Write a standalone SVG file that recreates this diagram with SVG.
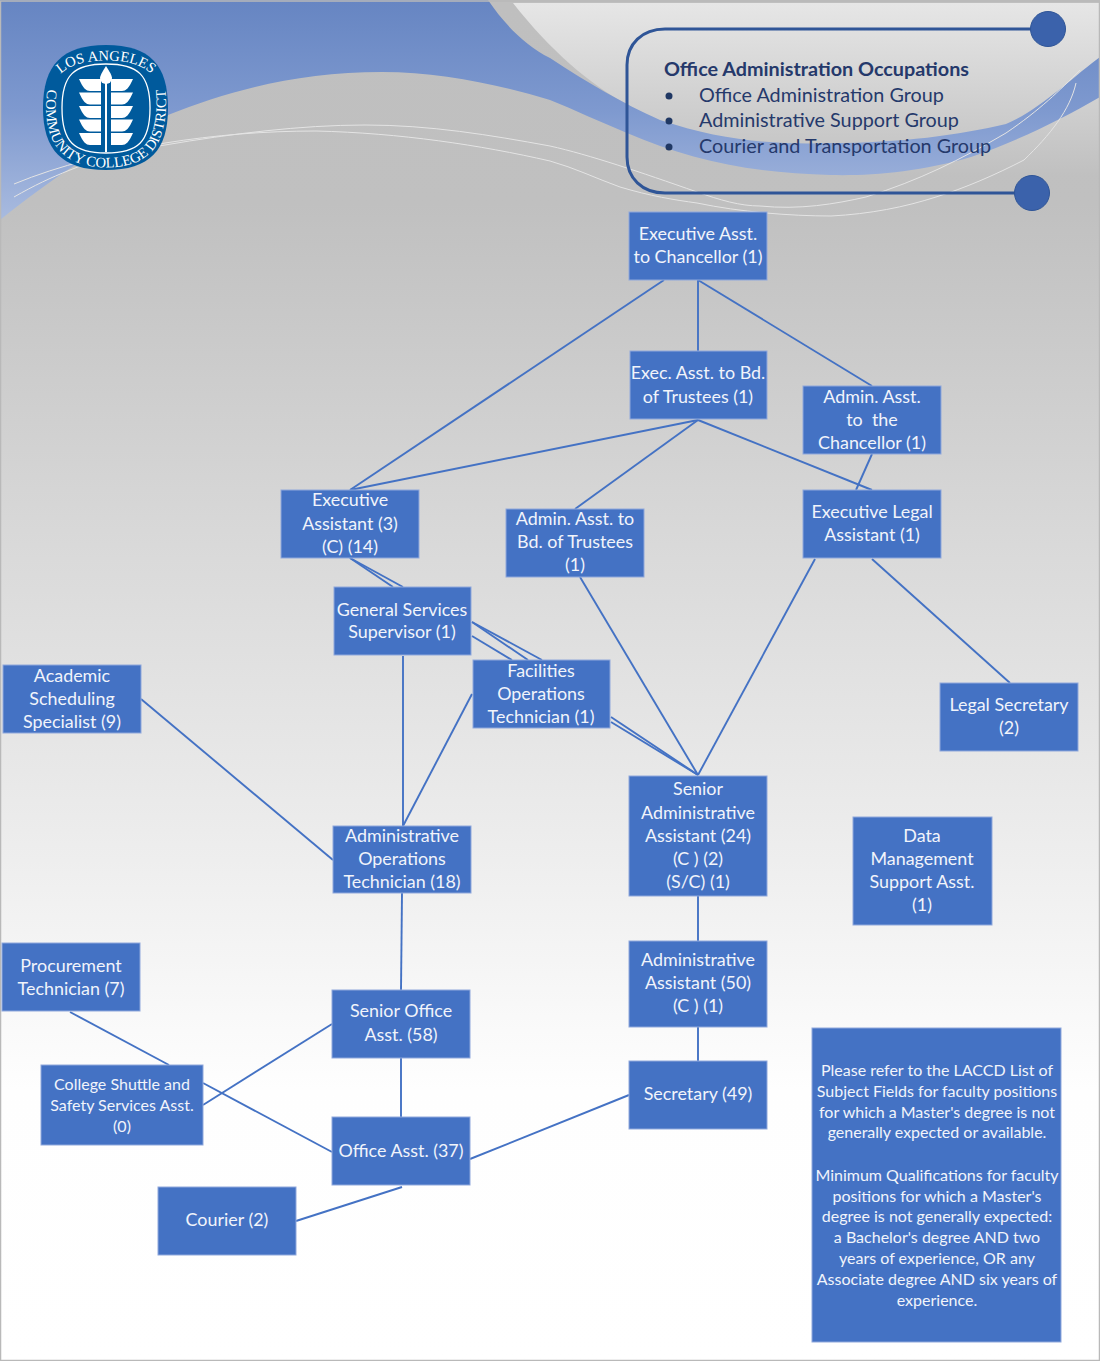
<svg xmlns="http://www.w3.org/2000/svg" width="1100" height="1361" viewBox="0 0 1100 1361">
<defs>
<linearGradient id="bg" x1="0" y1="0" x2="0" y2="1361" gradientUnits="userSpaceOnUse"><stop offset="0" stop-color="#bfbfbf"/><stop offset="0.15" stop-color="#c0c0c0"/><stop offset="0.4" stop-color="#d9d9d9"/><stop offset="0.6" stop-color="#ebebeb"/><stop offset="0.8" stop-color="#fefefe"/><stop offset="1" stop-color="#ffffff"/></linearGradient>
<linearGradient id="blue" x1="0" y1="0" x2="0" y2="220" gradientUnits="userSpaceOnUse"><stop offset="0" stop-color="#6685c2"/><stop offset="0.5" stop-color="#7e99cf"/><stop offset="1" stop-color="#a9bbdf"/></linearGradient>
<linearGradient id="light" x1="0" y1="3" x2="0" y2="175" gradientUnits="userSpaceOnUse"><stop offset="0" stop-color="#e6e6e6"/><stop offset="0.6" stop-color="#cfcfcf"/><stop offset="1" stop-color="#c0c0c0"/></linearGradient>
<path id="lost" d="M50,100 C52,68 78,60.5 106,60.5 C134,60.5 160,68 162,100"/>
<path id="ccd" d="M50,70 C45,100 44,122 53,141 C63,161 85,167.5 106,167.5 C128,167.5 149,161 159,141 C167,122 168,100 163,70"/>
<path id="leaf" d="M79,83 H101 V95 H90 C86,95 83,92 79,83Z M133,83 H111 V95 H122 C126,95 129,92 133,83Z" fill="#fff"/>
</defs>
<style>
.n{fill:#4472c4;stroke:#8fa8dc;stroke-width:1}
.t{font-family:"Lato","Carlito",sans-serif;font-size:17.9px;fill:#f1f4fb;text-anchor:middle}
.s{font-size:16px}
.c line{stroke:#4472c4;stroke-width:1.9}
.h{font-family:"Lato",sans-serif;font-size:19.8px;fill:#25396b}
.w{fill:none;stroke:#e4e4e4;stroke-width:1}
.l{font-family:"Liberation Serif",serif;font-size:14.6px;fill:#fff;text-anchor:middle}
</style>
<rect width="1100" height="1361" fill="url(#bg)"/>
<path d="M513,3 C550,50 590,85 627,104 L700,150 L831,170 V175 H1100 V3Z" fill="url(#light)"/>
<path d="M0,0 H488 C505,25 525,45 550,58 C590,84 620,102 660,120 C720,140 770,145 831,143 C900,143 960,135 1006,124 C1040,110 1075,75 1100,57 V97 C1060,120 1020,140 971,157 C920,172 870,176 831,175 C750,173 690,160 627,133 C600,122 575,110 550,100 C500,85 440,72 382,72 C300,72 230,90 168,115 C100,145 50,180 0,220Z" fill="url(#blue)"/>
<path class="w" d="M14,184 C60,165 110,153 165,145 C230,134 300,125 365,125 C430,125 490,135 550,146 C590,155 640,172 697,192 C720,200 740,206 760,206 C800,210 835,204 866,197 C920,180 960,160 1006,133 C1040,110 1060,90 1080,70"/>
<path class="w" d="M14,197 C35,185 50,178 70,170 C100,158 130,150 165,143 C215,135 265,131 316,131 C400,133 480,145 550,161 C575,168 595,178 620,187 C650,196 675,200 697,203 C740,212 790,216 831,216 C870,214 905,207 936,197 C965,188 995,175 1024,160 C1050,135 1070,110 1076,83"/>
<rect x="0.5" y="1" width="1099" height="1359.5" fill="none" stroke="#b9b9b9" stroke-width="1.5"/>
<g id="logo">
<path d="M106,45 C150,45 168,65 168,108 C168,150 150,170 106,170 C62,170 43,150 43,108 C43,65 62,45 106,45Z" fill="#005a9c"/>
<path d="M106,64 C138,64 150,75 150,108 C150,142 138,153 106,153 C74,153 62,142 62,108 C62,75 74,64 106,64Z" fill="none" stroke="#fff" stroke-width="1.3"/>
<use href="#leaf" y="-4"/><use href="#leaf" y="9.5"/><use href="#leaf" y="23"/><use href="#leaf" y="36.5"/><use href="#leaf" y="50"/>
<rect x="105" y="72" width="2" height="80" fill="#fff"/>
<path d="M106,66 C110,72 112,76 112,78 A6,6 0 0 1 100,78 C100,76 102,72 106,66Z" fill="#fff"/>
<text class="l"><textPath href="#lost" startOffset="50%">LOS ANGELES</textPath></text>
<text class="l"><textPath href="#ccd" startOffset="50%">COMMUNITY COLLEGE DISTRICT</textPath></text>
</g>
<g id="legend">
<path d="M1048,29 H665 C642,29 627,44 627,65 V157 C627,178 642,193 665,193 H1032" fill="none" stroke="#2f5597" stroke-width="3"/>
<circle cx="1048" cy="29" r="17.5" fill="#3b62ab" stroke="#2f5597"/>
<circle cx="1032" cy="193" r="17.5" fill="#3b62ab" stroke="#2f5597"/>
<text class="h" x="664" y="76" font-weight="700">Office Administration Occupations</text>
<circle cx="669" cy="96" r="3.5" fill="#203864"/><text class="h" x="699" y="102">Office Administration Group</text>
<circle cx="669" cy="121" r="3.5" fill="#203864"/><text class="h" x="699" y="127">Administrative Support Group</text>
<circle cx="669" cy="147" r="3.5" fill="#203864"/><text class="h" x="699" y="153">Courier and Transportation Group</text>
</g>
<g id="connectors" class="c">
<line x1="698" y1="280" x2="698" y2="351"/>
<line x1="698" y1="280" x2="872" y2="386"/>
<line x1="664" y1="280" x2="350" y2="490"/>
<line x1="698" y1="420" x2="350" y2="490"/>
<line x1="698" y1="420" x2="575" y2="509"/>
<line x1="698" y1="420" x2="872" y2="490"/>
<line x1="872" y1="454" x2="856" y2="490"/>
<line x1="350" y1="558" x2="403" y2="587"/>
<line x1="350" y1="558" x2="393" y2="587"/>
<line x1="472" y1="622" x2="542" y2="660"/>
<line x1="472" y1="622" x2="528" y2="660"/>
<line x1="472" y1="636" x2="512" y2="660"/>
<line x1="403" y1="656" x2="403" y2="826"/>
<line x1="472" y1="694" x2="403" y2="826"/>
<line x1="611" y1="717" x2="698" y2="775"/>
<line x1="611" y1="722" x2="698" y2="775"/>
<line x1="580" y1="577" x2="698" y2="775"/>
<line x1="815" y1="559" x2="698" y2="775"/>
<line x1="872" y1="559" x2="1010" y2="683"/>
<line x1="141" y1="699" x2="333" y2="860"/>
<line x1="402" y1="893" x2="401" y2="990"/>
<line x1="698" y1="896" x2="698" y2="941"/>
<line x1="698" y1="1027" x2="698" y2="1061"/>
<line x1="70" y1="1012" x2="169" y2="1065"/>
<line x1="203" y1="1105" x2="332" y2="1024"/>
<line x1="203" y1="1083" x2="332" y2="1152"/>
<line x1="401" y1="1058" x2="401" y2="1117"/>
<line x1="470" y1="1159" x2="629" y2="1095"/>
<line x1="296" y1="1221" x2="402" y2="1187"/>
</g>
<g id="n1"><rect class="n" x="629" y="212" width="138" height="68"/><text class="t"><tspan x="698" y="240">Executive Asst.</tspan><tspan x="698" y="263">to Chancellor (1)</tspan></text></g>
<g id="n2"><rect class="n" x="630" y="351" width="137" height="68"/><text class="t"><tspan x="698" y="379">Exec. Asst. to Bd.</tspan><tspan x="698" y="403">of Trustees (1)</tspan></text></g>
<g id="n3"><rect class="n" x="803" y="386" width="138" height="68"/><text class="t"><tspan x="872" y="403">Admin. Asst.</tspan><tspan x="872" y="426">to&#160;&#160;the</tspan><tspan x="872" y="449">Chancellor (1)</tspan></text></g>
<g id="n4"><rect class="n" x="281" y="490" width="138" height="68"/><text class="t"><tspan x="350" y="506">Executive</tspan><tspan x="350" y="530">Assistant (3)</tspan><tspan x="350" y="553">(C) (14)</tspan></text></g>
<g id="n5"><rect class="n" x="506" y="509" width="138" height="68"/><text class="t"><tspan x="575" y="525">Admin. Asst. to</tspan><tspan x="575" y="548">Bd. of Trustees</tspan><tspan x="575" y="571">(1)</tspan></text></g>
<g id="n6"><rect class="n" x="803" y="490" width="138" height="68"/><text class="t"><tspan x="872" y="518">Executive Legal</tspan><tspan x="872" y="541">Assistant (1)</tspan></text></g>
<g id="n7"><rect class="n" x="334" y="587" width="137" height="68"/><text class="t"><tspan x="402" y="616">General Services</tspan><tspan x="402" y="638">Supervisor (1)</tspan></text></g>
<g id="n8"><rect class="n" x="473" y="660" width="137" height="68"/><text class="t"><tspan x="541" y="677">Facilities</tspan><tspan x="541" y="700">Operations</tspan><tspan x="541" y="723">Technician (1)</tspan></text></g>
<g id="n9"><rect class="n" x="3" y="665" width="138" height="68"/><text class="t"><tspan x="72" y="682">Academic</tspan><tspan x="72" y="705">Scheduling</tspan><tspan x="72" y="728">Specialist (9)</tspan></text></g>
<g id="n10"><rect class="n" x="940" y="683" width="138" height="68"/><text class="t"><tspan x="1009" y="711">Legal Secretary</tspan><tspan x="1009" y="734">(2)</tspan></text></g>
<g id="n11"><rect class="n" x="629" y="776" width="138" height="120"/><text class="t"><tspan x="698" y="795">Senior</tspan><tspan x="698" y="819">Administrative</tspan><tspan x="698" y="842">Assistant (24)</tspan><tspan x="698" y="865">(C ) (2)</tspan><tspan x="698" y="888">(S/C) (1)</tspan></text></g>
<g id="n12"><rect class="n" x="853" y="817" width="139" height="108"/><text class="t"><tspan x="922" y="842">Data</tspan><tspan x="922" y="865">Management</tspan><tspan x="922" y="888">Support Asst.</tspan><tspan x="922" y="911">(1)</tspan></text></g>
<g id="n13"><rect class="n" x="333" y="826" width="138" height="67"/><text class="t"><tspan x="402" y="842">Administrative</tspan><tspan x="402" y="865">Operations</tspan><tspan x="402" y="888">Technician (18)</tspan></text></g>
<g id="n14"><rect class="n" x="629" y="941" width="138" height="86"/><text class="t"><tspan x="698" y="966">Administrative</tspan><tspan x="698" y="989">Assistant (50)</tspan><tspan x="698" y="1012">(C ) (1)</tspan></text></g>
<g id="n15"><rect class="n" x="2" y="943" width="138" height="68"/><text class="t"><tspan x="71" y="972">Procurement</tspan><tspan x="71" y="995">Technician (7)</tspan></text></g>
<g id="n16"><rect class="n" x="332" y="990" width="138" height="68"/><text class="t"><tspan x="401" y="1017">Senior Office</tspan><tspan x="401" y="1041">Asst. (58)</tspan></text></g>
<g id="n17"><rect class="n" x="41" y="1065" width="162" height="80"/><text class="t s"><tspan x="122" y="1090">College Shuttle and</tspan><tspan x="122" y="1111">Safety Services Asst.</tspan><tspan x="122" y="1132">(0)</tspan></text></g>
<g id="n18"><rect class="n" x="629" y="1061" width="138" height="68"/><text class="t"><tspan x="698" y="1100">Secretary (49)</tspan></text></g>
<g id="n19"><rect class="n" x="332" y="1117" width="138" height="68"/><text class="t"><tspan x="401" y="1157">Office Asst. (37)</tspan></text></g>
<g id="n20"><rect class="n" x="158" y="1187" width="138" height="68"/><text class="t"><tspan x="227" y="1226">Courier (2)</tspan></text></g>
<g id="n21"><rect class="n" x="812" y="1028" width="249" height="314"/><text class="t s"><tspan x="937" y="1076">Please refer to the LACCD List of</tspan><tspan x="937" y="1097">Subject Fields for faculty positions</tspan><tspan x="937" y="1118">for which a Master's degree is not</tspan><tspan x="937" y="1138">generally expected or available.</tspan><tspan x="937" y="1181">Minimum Qualifications for faculty</tspan><tspan x="937" y="1202">positions for which a Master's</tspan><tspan x="937" y="1222">degree is not generally expected:</tspan><tspan x="937" y="1243">a Bachelor's degree AND two</tspan><tspan x="937" y="1264">years of experience, OR any</tspan><tspan x="937" y="1285">Associate degree AND six years of</tspan><tspan x="937" y="1306">experience.</tspan></text></g>
</svg>
